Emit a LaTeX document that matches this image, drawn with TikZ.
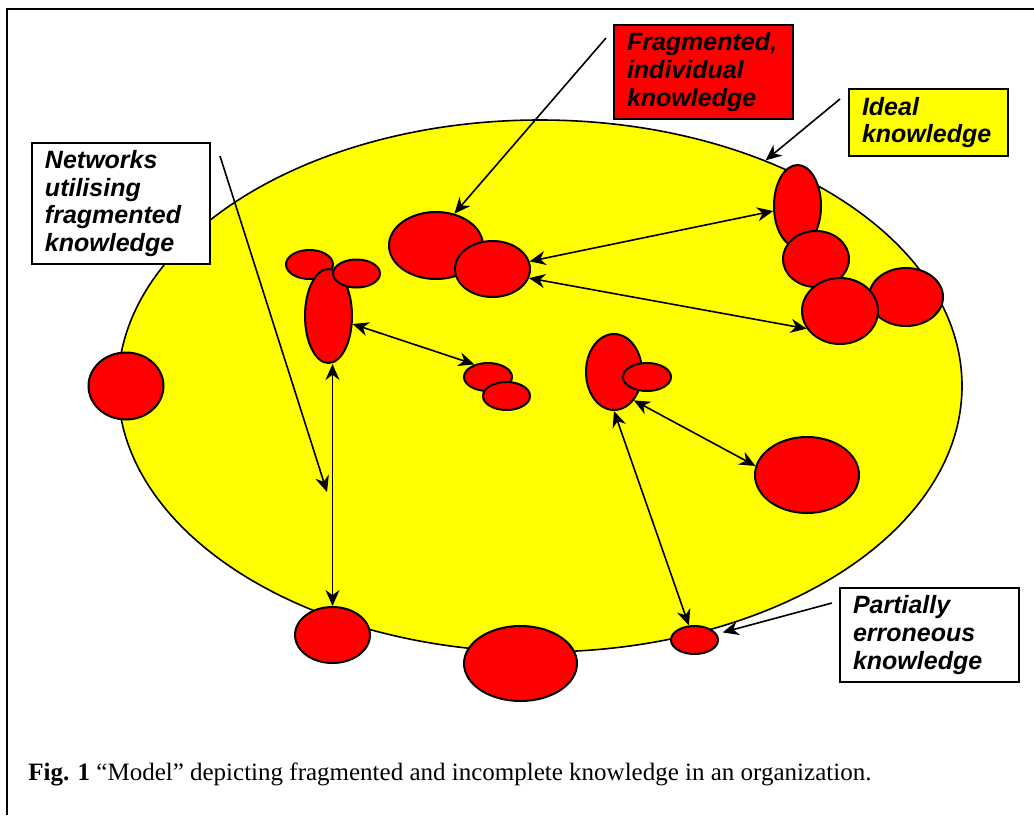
\documentclass[tikz,border=0pt]{standalone}
\usepackage{fontspec}
\setmainfont{Liberation Serif}
\setsansfont{Liberation Sans}
\usetikzlibrary{arrows.meta, shapes.geometric}
\definecolor{bulb}{RGB}{255,255,0}
\definecolor{chunk}{RGB}{255,0,0}
\tikzset{%
	blob/.style 2 args={draw, ellipse, fill=chunk, line width=1pt, inner sep=0mm,%
		minimum width=#1*0.5pt, minimum height=#2*0.5pt},
	whole/.style={draw, ellipse, fill=bulb, line width=0.8pt, inner sep=0mm,%
		minimum width=422pt, minimum height=266pt},
	link/.style={{Stealth[length=8pt,width=7pt]}-{Stealth[length=8pt,width=7pt]}, line width=0.8pt},
	pointer/.style={-{Stealth[length=8pt,width=7pt]}, line width=0.8pt},
	tag/.style={draw, rectangle, line width=1pt, inner xsep=6.5pt, inner ysep=0pt, align=left,%
		font=\sffamily\bfseries\itshape\fontsize{12.5}{13.9}\selectfont}
}

\begin{document}
\begin{tikzpicture}[x=0.5pt, y=-0.5pt]
		\useasboundingbox (0,0) rectangle (1034,815);
		\draw[line width=1pt] (7,815) -- (7,9) -- (1034,9);

		% the organisation
		\node[whole] (org) at (540,386) {};

		% pieces of knowledge
		\node[blob={75}{67}] (lone-l) at (126,386) {};
		\node[blob={47}{29}] (net-l) at (309.5,264.5) {};
		\node[blob={47}{94}] (net-c) at (328.5,316) {};
		\node[blob={47}{28}] (net-r) at (356.5,273.5) {};
		\node[blob={94}{67}] (frag-a) at (436,245.5) {};
		\node[blob={75}{56}] (frag-b) at (492.5,269) {};
		\node[blob={48}{28}] (pair-a) at (488,377) {};
		\node[blob={47}{28}] (pair-b) at (506.5,396) {};
		\node[blob={56}{76}] (mid-a) at (614,372) {};
		\node[blob={48}{28}] (mid-b) at (647,377) {};
		\node[blob={104}{76}] (mid-c) at (807,475) {};
		\node[blob={47}{82}] (ideal-a) at (797.5,206) {};
		\node[blob={66}{56}] (ideal-b) at (816,259) {};
		\node[blob={74}{58}] (ideal-d) at (906,297) {};
		\node[blob={76}{66}] (ideal-c) at (840,311) {};
		\node[blob={75}{56}] (low-l) at (332.5,635) {};
		\node[blob={113}{75}] (low-c) at (520.5,663.5) {};
		\node[blob={47}{28}] (low-r) at (694.5,640) {};

		% links between them
		\draw[link] (frag-b) -- (ideal-a);
		\draw[link] (frag-b.346) -- (ideal-c.208);
		\draw[link] (net-c) -- (pair-a.137);
		\draw[link] (net-c.south -| low-l.north) -- (low-l.north);
		\draw[link] (mid-a.305) -- (mid-c.170);
		\draw[link] (mid-a.south) -- (low-r.111);

		% labels
		\node[tag, fill=white, text width=76pt, minimum height=60.5pt] (networks) at (121,203.5)
			{Networks\\utilising\\fragmented\\knowledge};
		\node[tag, fill=chunk, text width=76.5pt, minimum height=47pt] (fragmented) at (703.5,72)
			{Fragmented,\\individual\\knowledge};
		\node[tag, fill=bulb, text width=66.5pt, minimum height=33.5pt] (ideal) at (928.5,122.5)
			{Ideal\\knowledge};
		\node[tag, fill=white, text width=76.5pt, minimum height=47pt] (erroneous) at (929.5,635)
			{Partially\\erroneous\\knowledge};

		\coordinate (frag-tail) at (606,38);
		\coordinate (ideal-tail) at (840,99);
		\coordinate (net-tail) at (220,156);
		\coordinate (net-tip) at (327,492);
		\coordinate (err-tail) at (832,603);
		\draw[pointer] (frag-tail) -- (frag-a.60);
		\draw[pointer] (ideal-tail) -- (org.45);
		\draw[pointer] (net-tail) -- (net-tip);
		\draw[pointer, shorten >=3pt] (err-tail) -- (low-r);

		\node[anchor=base west, inner sep=0pt, font=\fontsize{12.5}{15}\selectfont] (caption) at (28,780)
			{\textbf{Fig. 1} “Model” depicting fragmented and incomplete knowledge in an organization.};
	\end{tikzpicture}
\end{document}
